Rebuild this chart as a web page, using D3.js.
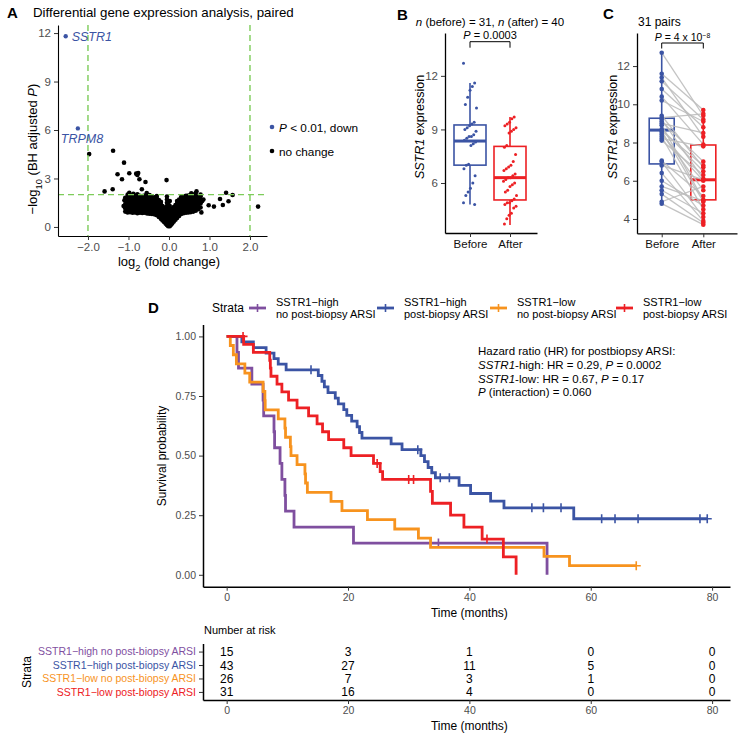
<!DOCTYPE html>
<html><head><meta charset="utf-8">
<script src="https://cdn.jsdelivr.net/npm/d3@7"></script>
<style>body{margin:0;background:#fff;} svg{display:block;}</style>
</head><body>
<script>
// ================= DATA =================
// Panel A: volcano
const volcanoDown = [
  {gene: "SSTR1", lfc: -2.55, p: 11.8},
  {gene: "TRPM8", lfc: -2.25, p: 6.1}
];
const volcanoOutliers = [
  [-1.97,4.51],[-1.38,4.72],[-1.11,3.98],[-1.27,3.26],[-0.98,3.32],[-0.81,3.3],[-0.76,3.34],[-0.78,3.22],
  [-1.16,2.95],[-0.73,2.95],[-0.58,2.78],[-0.06,2.9],[-1.59,2.2],[-1.39,2.33],[-0.67,2.33],[-0.98,2.12],
  [-0.88,2.05],[-0.55,2.1],[0.68,2.2],[1.41,2.12],[1.57,1.98],[1.26,1.73],[1.47,1.59],[1.33,1.36],
  [1.11,1.26],[0.98,1.34],[2.2,1.26],[0.77,1.5],[0.8,0.9],[0.85,1.7],[0.78,2.0],[0.55,2.08],
  [-1.12,1.3],[-1.1,1.65],[0.82,1.6]
];
const volcanoCloud = [
  [-1.08,[0.95,1.15,1.4,1.62,1.8]],
  [-1.02,[0.9,1.05,1.22,1.38,1.55,1.72,1.88,2.0]],
  [-0.96,[0.92,1.07,1.22,1.37,1.52,1.67,1.82,1.96]],
  [-0.90,[0.88,1.03,1.18,1.33,1.48,1.63,1.78,1.93]],
  [-0.84,[0.9,1.05,1.2,1.35,1.5,1.65,1.8,1.95]],
  [-0.78,[0.85,1.0,1.15,1.3,1.45,1.6,1.75,1.9,2.02]],
  [-0.72,[0.88,1.03,1.18,1.33,1.48,1.63,1.78,1.93]],
  [-0.66,[0.86,1.01,1.16,1.31,1.46,1.61,1.76,1.91]],
  [-0.60,[0.88,1.03,1.18,1.33,1.48,1.63,1.78,1.94]],
  [-0.54,[0.84,0.99,1.14,1.29,1.44,1.59,1.74,1.89]],
  [-0.48,[0.82,0.97,1.12,1.27,1.42,1.57,1.72,1.87,1.98]],
  [-0.42,[0.8,0.95,1.1,1.25,1.4,1.55,1.7,1.85]],
  [-0.36,[0.78,0.93,1.08,1.23,1.38,1.53,1.68,1.83]],
  [-0.30,[0.72,0.87,1.02,1.17,1.32,1.47,1.62,1.78,1.92]],
  [-0.25,[0.62,0.77,0.92,1.07,1.22,1.37,1.52,1.67]],
  [-0.20,[0.5,0.65,0.8,0.95,1.1,1.25,1.4,1.55]],
  [-0.16,[0.4,0.55,0.7,0.85,1.0,1.15,1.3]],
  [-0.12,[0.3,0.45,0.6,0.75,0.9,1.05,1.2]],
  [-0.08,[0.2,0.35,0.5,0.65,0.8,0.95]],
  [-0.05,[0.12,0.27,0.42,0.57,0.72,0.87,1.1,1.3,1.5,1.7,1.88]],
  [-0.02,[0.04,0.18,0.33,0.48,0.63,0.8,1.0,1.2,1.45]],
  [0.02,[0.05,0.2,0.35,0.5,0.65,0.85,1.05,1.3,1.6]],
  [0.05,[0.14,0.3,0.45,0.6,0.75,0.9]],
  [0.08,[0.22,0.37,0.52,0.67,0.82,0.97,1.12]],
  [0.12,[0.33,0.48,0.63,0.78,0.93,1.08,1.23]],
  [0.16,[0.45,0.6,0.75,0.9,1.05,1.2,1.35]],
  [0.20,[0.55,0.7,0.85,1.0,1.15,1.3,1.45,1.6]],
  [0.25,[0.68,0.83,0.98,1.13,1.28,1.43,1.58,1.7]],
  [0.30,[0.8,0.95,1.1,1.25,1.4,1.55,1.7,1.85]],
  [0.36,[0.85,1.0,1.15,1.3,1.45,1.6,1.75,1.9]],
  [0.42,[0.88,1.03,1.18,1.33,1.48,1.63,1.78,1.93]],
  [0.48,[0.9,1.05,1.2,1.35,1.5,1.65,1.8,1.95]],
  [0.54,[0.92,1.07,1.22,1.37,1.52,1.67,1.82,1.97]],
  [0.60,[0.95,1.1,1.25,1.4,1.55,1.7,1.85,2.0]],
  [0.66,[1.0,1.15,1.3,1.45,1.6,1.75,1.9,2.1]],
  [0.72,[1.1,1.3,1.5,1.7,1.88]],
  [0.78,[1.2,1.45,1.7,1.9]]
];
const aXTicks = [-2,-1,0,1,2];
const aYTicks = [0,3,6,9,12];
const foldCut = [-2,2];
const pCut = 2;

// Panels B & C
const groups = ["Before","After"];
const beforeVals = [12.7,11.6,11.4,11.2,10.8,10.4,10.2,9.4,9.3,9.2,9.1,9.0,8.9,8.7,8.6,8.6,8.5,8.4,8.3,8.2,8.1,7.05,7.0,6.8,6.4,6.0,5.7,5.5,5.3,4.9,4.8];
const afterVals = [9.7,9.6,9.4,9.3,9.2,9.1,9.0,8.9,8.8,8.1,8.0,7.6,7.2,7.0,6.9,6.8,6.7,6.5,6.4,6.3,6.3,6.2,6.1,6.0,5.9,5.8,5.6,5.5,5.3,5.1,5.0,4.9,4.9,4.8,4.7,4.6,4.3,4.2,4.0,3.7];
const afterPaired = [9.4,9.7,8.3,9.2,8.8,7.9,9.1,6.7,9.5,6.1,7.0,8.5,5.0,6.5,4.9,6.8,5.5,6.0,4.5,7.8,6.3,5.2,4.1,6.05,3.9,4.7,4.95,4.3,3.8,5.7,3.7];
const boxB = [
  {q1:7.0, med:8.35, q3:9.25, lo:4.8, hi:11.6},
  {q1:5.05, med:6.3, q3:8.05, lo:3.65, hi:9.7}
];
const boxC = [
  {q1:6.88, med:8.65, q3:9.27, lo:4.8, hi:12.7},
  {q1:5.0, med:6.05, q3:7.87, lo:3.7, hi:9.7}
];
const bTicks = [6,9,12];
const cTicks = [4,6,8,10,12];

// Panel D: Kaplan-Meier
const strataNames = ["SSTR1\u2212high no post-biopsy ARSI","SSTR1\u2212high post-biopsy ARSI","SSTR1\u2212low no post-biopsy ARSI","SSTR1\u2212low post-biopsy ARSI"];
const strataLegend = [["SSTR1\u2212high","no post-biopsy ARSI"],["SSTR1\u2212high","post-biopsy ARSI"],["SSTR1\u2212low","no post-biopsy ARSI"],["SSTR1\u2212low","post-biopsy ARSI"]];
const stepsPurple = [[1.7,0.933],[1.95,0.867],[4.15,0.8],[6.0,0.733],[6.1,0.667],[7.8,0.6],[7.9,0.533],[8.8,0.467],[9.1,0.4],[9.6,0.333],[9.7,0.267],[11.1,0.2],[20.9,0.133],[52.8,0]];
const stepsBlue = [[2.5,0.977],[4.4,0.953],[6.5,0.93],[7.8,0.907],[8.5,0.884],[9.8,0.86],[15.1,0.836],[15.7,0.812],[16.1,0.788],[16.7,0.764],[17.9,0.741],[18.4,0.717],[19.3,0.693],[19.8,0.669],[20.6,0.645],[21.5,0.621],[21.9,0.597],[22.3,0.573],[27.1,0.549],[28.9,0.525],[32.0,0.5],[32.6,0.475],[33.2,0.45],[33.8,0.428],[34.4,0.407],[38.3,0.375],[40.2,0.341],[43.5,0.309],[45.7,0.281],[57.2,0.235]];
const stepsOrange = [[0.6,0.962],[1.1,0.923],[1.6,0.885],[3.0,0.846],[3.8,0.808],[6.0,0.769],[6.3,0.731],[6.35,0.692],[8.5,0.654],[9.6,0.615],[9.7,0.577],[10.5,0.538],[10.6,0.5],[11.6,0.462],[12.9,0.423],[13.0,0.385],[13.3,0.346],[17.2,0.308],[19.0,0.269],[23.2,0.231],[27.7,0.192],[31.6,0.154],[33.6,0.115],[52.3,0.077],[56.5,0.038]];
const stepsRed = [[2.8,0.967],[4.4,0.933],[7.1,0.9],[7.2,0.867],[7.3,0.833],[8.3,0.8],[9.1,0.767],[10.2,0.733],[11.6,0.7],[13.5,0.667],[14.9,0.633],[15.8,0.6],[16.8,0.567],[19.3,0.533],[20.5,0.5],[24.2,0.467],[25.3,0.433],[25.7,0.4],[33.6,0.35],[33.9,0.3],[36.9,0.25],[39.1,0.2],[42.1,0.15],[45.6,0.075],[47.7,0]];
const censorPurple = [34.9];
const censorBlue = [13.9,31.5,35.2,36.7,50.3,52.2,55.1,61.8,64.0,67.8,78.0,79.2];
const censorOrange = [67.5];
const censorRed = [2.7,24.8,30.0,30.8,42.9];
const lastTime = [52.8, 79.2, 67.5, 47.7];
const riskTimes = [0,20,40,60,80];
const riskPurple = [15,3,1,0,0];
const riskBlue = [43,27,11,5,0];
const riskOrange = [26,7,3,1,0];
const riskRed = [31,16,4,0,0];
const kmTicksY = [0,0.25,0.5,0.75,1];
const hrLines = [
  [["Hazard ratio (HR) for postbiopsy ARSI:",false]],
  [["SSTR1",true],["-high: HR = 0.29, ",false],["P",true],[" = 0.0002",false]],
  [["SSTR1",true],["-low: HR = 0.67, ",false],["P",true],[" = 0.17",false]],
  [["P",true],[" (interaction) = 0.060",false]]
];

// ================= STYLE =================
const FONT = '"Liberation Sans", Arial, Helvetica, sans-serif';
const BLUE = "#3b54a4", RED = "#ed2024", PURPLE = "#7f4f9f", ORANGE = "#f7931e";
const strataColors = [PURPLE, BLUE, ORANGE, RED];
const GREEN = "#7dcc5a";
const TICKTXT = "#4d4d4d";

const svg = d3.select("body").append("svg").attr("width",739).attr("height",735)
  .style("font-family", FONT);

function rich(g, x, y, parts, opt = {}) {
  const t = g.append("text").attr("x", x).attr("y", y)
    .attr("font-size", opt.size || 12).attr("fill", opt.fill || "#000")
    .attr("text-anchor", opt.anchor || "start");
  if (opt.transform) t.attr("transform", opt.transform);
  if (opt.weight) t.attr("font-weight", opt.weight);
  parts.forEach(p => {
    const s = t.append("tspan").text(p[0]);
    if (p[1] === true) s.attr("font-style","italic");
    if (p[1] === "sub") s.attr("baseline-shift","sub").attr("font-size", (opt.size||12)*0.72);
    if (p[1] === "sup") s.attr("baseline-shift","super").attr("font-size", (opt.size||12)*0.65);
  });
  return t;
}
function styleAxis(g, opt = {}) {
  g.attr("font-family", FONT).attr("font-size", opt.size || 11);
  g.select(".domain").attr("stroke","#000").attr("stroke-width", opt.lw || 1.1);
  g.selectAll(".tick line").attr("stroke","#333").attr("stroke-width", opt.tw || 1);
  g.selectAll(".tick text").attr("fill", opt.color || TICKTXT);
}

// ================= PANEL A =================
{
  const g = svg.append("g");
  const x = d3.scaleLinear().domain([-2.74, 2.42]).range([58, 267]);
  const y = d3.scaleLinear().domain([-0.56, 12.5]).range([236, 25]);
  rich(g, 7, 18, [["A",false]], {size:15, weight:"bold"});
  rich(g, 33, 17, [["Differential gene expression analysis, paired",false]], {size:13.3});
  const cloud = volcanoCloud.flatMap(([cx, ys]) => ys.map(v => [cx, v]));
  g.selectAll("circle.c").data(cloud.concat(volcanoOutliers)).join("circle")
    .attr("cx", d => x(d[0])).attr("cy", d => y(d[1])).attr("r", 2.3).attr("fill","#000");
  g.selectAll("circle.d").data(volcanoDown).join("circle")
    .attr("cx", d => x(d.lfc)).attr("cy", d => y(d.p)).attr("r", 2.2).attr("fill", BLUE);
  foldCut.forEach(v => g.append("line").attr("x1", x(v)).attr("x2", x(v)).attr("y1", 25).attr("y2", 236)
    .attr("stroke", GREEN).attr("stroke-width", 1.4).attr("stroke-dasharray","6,4"));
  g.append("line").attr("x1", 58).attr("x2", 267).attr("y1", y(pCut)).attr("y2", y(pCut))
    .attr("stroke", GREEN).attr("stroke-width", 1.4).attr("stroke-dasharray","6,4");
  rich(g, x(volcanoDown[0].lfc) + 6, y(volcanoDown[0].p) + 5, [[volcanoDown[0].gene,true]], {size:12.5, fill:BLUE});
  rich(g, x(volcanoDown[1].lfc) - 17, y(volcanoDown[1].p) + 15, [[volcanoDown[1].gene,true]], {size:12.5, fill:BLUE});
  const ax = g.append("g").attr("transform","translate(0,236)")
    .call(d3.axisBottom(x).tickValues(aXTicks).tickSize(4).tickPadding(3).tickSizeOuter(0));
  styleAxis(ax, {size:11.5});
  const ay = g.append("g").attr("transform","translate(58,0)")
    .call(d3.axisLeft(y).tickValues(aYTicks).tickSize(4).tickPadding(3).tickSizeOuter(0));
  styleAxis(ay, {size:11.5});
  rich(g, 169, 266, [["log",false],["2","sub"],[" (fold change)",false]], {size:13, anchor:"middle"});
  rich(g, 0, 0, [["\u2212log",false],["10","sub"],[" (BH adjusted ",false],["P",true],[")",false]],
    {size:13, anchor:"middle", transform:"translate(37,149) rotate(-90)"});
  // legend
  g.append("circle").attr("cx",272).attr("cy",127).attr("r",2.3).attr("fill",BLUE);
  rich(g, 279, 131.5, [["P",true],[" < 0.01, down",false]], {size:11.8});
  g.append("circle").attr("cx",272).attr("cy",151).attr("r",2.3).attr("fill","#000");
  rich(g, 279, 155.5, [["no change",false]], {size:11.8});
}

// ================= PANEL B =================
{
  const g = svg.append("g");
  const x = d3.scaleLinear().domain([-0.625, 1.675]).range([445, 537]);
  const y = d3.scaleLinear().domain([3.2, 14.4]).range([233, 33]);
  rich(g, 397, 20, [["B",false]], {size:15, weight:"bold"});
  rich(g, 490, 26, [["n",true],[" (before) = 31, ",false],["n",true],[" (after) = 40",false]], {size:11.5, anchor:"middle"});
  const bw = 32;
  boxB.forEach((b, i) => {
    const c = x(i), col = i ? RED : BLUE;
    g.append("line").attr("x1",c).attr("x2",c).attr("y1",y(b.q3)).attr("y2",y(b.hi)).attr("stroke",col).attr("stroke-width",1.6);
    g.append("line").attr("x1",c).attr("x2",c).attr("y1",y(b.q1)).attr("y2",y(b.lo)).attr("stroke",col).attr("stroke-width",1.6);
    g.append("rect").attr("x",c-bw/2).attr("width",bw).attr("y",y(b.q3)).attr("height",y(b.q1)-y(b.q3))
      .attr("fill","none").attr("stroke",col).attr("stroke-width",1.6);
    g.append("line").attr("x1",c-bw/2).attr("x2",c+bw/2).attr("y1",y(b.med)).attr("y2",y(b.med)).attr("stroke",col).attr("stroke-width",3);
  });
  const jit = i => (((i * 53) % 29) / 28 - 0.5) * 13;
  g.selectAll("circle.b").data(beforeVals).join("circle")
    .attr("cx",(d,i)=>x(0)+jit(i)).attr("cy",d=>y(d)).attr("r",1.5).attr("fill",BLUE);
  g.selectAll("circle.a").data(afterVals).join("circle")
    .attr("cx",(d,i)=>x(1)+jit(i+7)).attr("cy",d=>y(d)).attr("r",1.5).attr("fill",RED);
  // bracket
  g.append("path").attr("d",`M${x(0)},47.7V41.7H${x(1)}V47.7`).attr("fill","none").attr("stroke","#000").attr("stroke-width",1);
  rich(g, (x(0)+x(1))/2, 39, [["P",true],[" = 0.0003",false]], {size:11, anchor:"middle"});
  const ax = g.append("g").attr("transform","translate(0,233)")
    .call(d3.axisBottom(x).tickValues([0,1]).tickFormat(i=>groups[i]).tickSize(4).tickPadding(3).tickSizeOuter(0));
  styleAxis(ax, {size:11.5, color:"#111", lw:1.3});
  const ay = g.append("g").attr("transform","translate(445,0)")
    .call(d3.axisLeft(y).tickValues(bTicks).tickSize(4).tickPadding(3).tickSizeOuter(0));
  styleAxis(ay, {size:11.5, lw:1.3});
  rich(g, 0, 0, [["SSTR1",true],[" expression",false]], {size:12.5, anchor:"middle", transform:"translate(424,127) rotate(-90)"});
}

// ================= PANEL C =================
{
  const g = svg.append("g");
  const x = d3.scaleLinear().domain([-0.594, 1.81]).range([637, 737]);
  const y = d3.scaleLinear().domain([3.25, 13.73]).range([233.3, 33]);
  rich(g, 603, 19, [["C",false]], {size:15, weight:"bold"});
  rich(g, 638, 25.5, [["31 pairs",false]], {size:12});
  const bw = 25;
  boxC.forEach((b, i) => {
    const c = x(i), col = i ? RED : BLUE;
    g.append("line").attr("x1",c).attr("x2",c).attr("y1",y(b.q3)).attr("y2",y(b.hi)).attr("stroke",col).attr("stroke-width",1.6);
    g.append("line").attr("x1",c).attr("x2",c).attr("y1",y(b.q1)).attr("y2",y(b.lo)).attr("stroke",col).attr("stroke-width",1.6);
    g.append("rect").attr("x",c-bw/2).attr("width",bw).attr("y",y(b.q3)).attr("height",y(b.q1)-y(b.q3))
      .attr("fill","none").attr("stroke",col).attr("stroke-width",1.6);
    g.append("line").attr("x1",c-bw/2).attr("x2",c+bw/2).attr("y1",y(b.med)).attr("y2",y(b.med)).attr("stroke",col).attr("stroke-width",3);
  });
  g.selectAll("line.pair").data(beforeVals).join("line")
    .attr("x1",x(0)).attr("x2",x(1)).attr("y1",d=>y(d)).attr("y2",(d,i)=>y(afterPaired[i]))
    .attr("stroke","#bdbdbd").attr("stroke-width",1.3).attr("opacity",0.9);
  g.selectAll("circle.b").data(beforeVals).join("circle")
    .attr("cx",x(0)).attr("cy",d=>y(d)).attr("r",2.3).attr("fill",BLUE);
  g.selectAll("circle.a").data(afterPaired).join("circle")
    .attr("cx",x(1)).attr("cy",d=>y(d)).attr("r",2.3).attr("fill",RED);
  g.append("path").attr("d",`M${x(0)},48.5V43H${x(1)}V48.5`).attr("fill","none").attr("stroke","#000").attr("stroke-width",1);
  rich(g, (x(0)+x(1))/2, 40.5, [["P",true],[" = 4 x 10",false],["\u22128","sup"]], {size:10.5, anchor:"middle"});
  const ax = g.append("g").attr("transform","translate(0,233.3)")
    .call(d3.axisBottom(x).tickValues([0,1]).tickFormat(i=>groups[i]).tickSize(4).tickPadding(3).tickSizeOuter(0));
  styleAxis(ax, {size:11.5, color:"#111", lw:1.3});
  const ay = g.append("g").attr("transform","translate(637,0)")
    .call(d3.axisLeft(y).tickValues(cTicks).tickSize(4).tickPadding(3).tickSizeOuter(0));
  styleAxis(ay, {size:11.5, lw:1.3});
  rich(g, 0, 0, [["SSTR1",true],[" expression",false]], {size:12.5, anchor:"middle", transform:"translate(617,127) rotate(-90)"});
}

// ================= PANEL D =================
{
  const g = svg.append("g");
  const x = d3.scaleLinear().domain([-3.9, 82.95]).range([203, 730]);
  const y = d3.scaleLinear().domain([-0.05, 1.05]).range([586.7, 324.5]);
  rich(g, 148, 313, [["D",false]], {size:15, weight:"bold"});
  // legend
  rich(g, 212, 312, [["Strata",false]], {size:12});
  const keyX = [249, 377, 490, 616];
  strataLegend.forEach((lab, i) => {
    const k = keyX[i];
    g.append("line").attr("x1",k).attr("x2",k+17).attr("y1",308).attr("y2",308).attr("stroke",strataColors[i]).attr("stroke-width",2.8);
    g.append("line").attr("x1",k+8.5).attr("x2",k+8.5).attr("y1",304).attr("y2",312).attr("stroke",strataColors[i]).attr("stroke-width",1.6);
    rich(g, k+27, 306, [[lab[0],false]], {size:11});
    rich(g, k+27, 318, [[lab[1],false]], {size:11});
  });
  const steps = [stepsPurple, stepsBlue, stepsOrange, stepsRed];
  const cens = [censorPurple, censorBlue, censorOrange, censorRed];
  const line = d3.line().x(d=>x(d[0])).y(d=>y(d[1])).curve(d3.curveStepAfter);
  const survAt = (st, t) => { let s = 1; for (const [tt, ss] of st) { if (tt <= t) s = ss; else break; } return s; };
  steps.forEach((st, i) => {
    const pts = [[0,1]].concat(st);
    const last = st[st.length-1];
    if (lastTime[i] > last[0]) pts.push([lastTime[i], last[1]]);
    g.append("path").attr("d", line(pts)).attr("fill","none").attr("stroke",strataColors[i]).attr("stroke-width",2.8);
    cens[i].forEach(t => {
      const cx = x(t), cy = y(survAt(st, t));
      g.append("path").attr("d",`M${cx},${cy-4.5}V${cy+4.5}M${cx-4.5},${cy}H${cx+4.5}`)
        .attr("stroke",strataColors[i]).attr("stroke-width",1.6);
    });
  });
  hrLines.forEach((ln, i) => rich(g, 478, 355 + i*13.8, ln, {size:11.5}));
  const ax = g.append("g").attr("transform","translate(0,586.7)")
    .call(d3.axisBottom(x).tickValues(riskTimes).tickSize(4).tickPadding(3).tickSizeOuter(0));
  styleAxis(ax, {size:10.5, lw:1.5});
  const ay = g.append("g").attr("transform","translate(203,0)")
    .call(d3.axisLeft(y).tickValues(kmTicksY).tickFormat(d3.format(".2f")).tickSize(4).tickPadding(3).tickSizeOuter(0));
  styleAxis(ay, {size:10.5, lw:1.5});
  rich(g, x(40), 617, [["Time (months)",false]], {size:12, anchor:"middle"});
  rich(g, 0, 0, [["Survival probability",false]], {size:12, anchor:"middle", transform:"translate(166,456) rotate(-90)"});

  // risk table
  const yT = d3.scaleLinear().domain([-0.6, 3.6]).range([643.5, 700]);
  rich(g, 204, 634, [["Number at risk",false]], {size:11});
  const risks = [riskPurple, riskBlue, riskOrange, riskRed];
  risks.forEach((r, i) => r.forEach((v, j) =>
    rich(g, x(riskTimes[j]), yT(i)+4.5, [[String(v),false]], {size:12, anchor:"middle"})));
  const tx = g.append("g").attr("transform","translate(0,700)")
    .call(d3.axisBottom(x).tickValues(riskTimes).tickSize(4).tickPadding(3).tickSizeOuter(0));
  styleAxis(tx, {size:10.5, lw:1.5});
  const ty = g.append("g").attr("transform","translate(203,0)")
    .call(d3.axisLeft(yT).tickValues([0,1,2,3]).tickFormat(i=>strataNames[i]).tickSize(4).tickPadding(3).tickSizeOuter(0));
  styleAxis(ty, {size:10.5, lw:1.5});
  ty.selectAll(".tick text").attr("fill",(d)=>strataColors[d]);
  rich(g, x(40), 730, [["Time (months)",false]], {size:12, anchor:"middle"});
  rich(g, 0, 0, [["Strata",false]], {size:12, anchor:"middle", transform:"translate(31,672) rotate(-90)"});
}
</script>
</body></html>
